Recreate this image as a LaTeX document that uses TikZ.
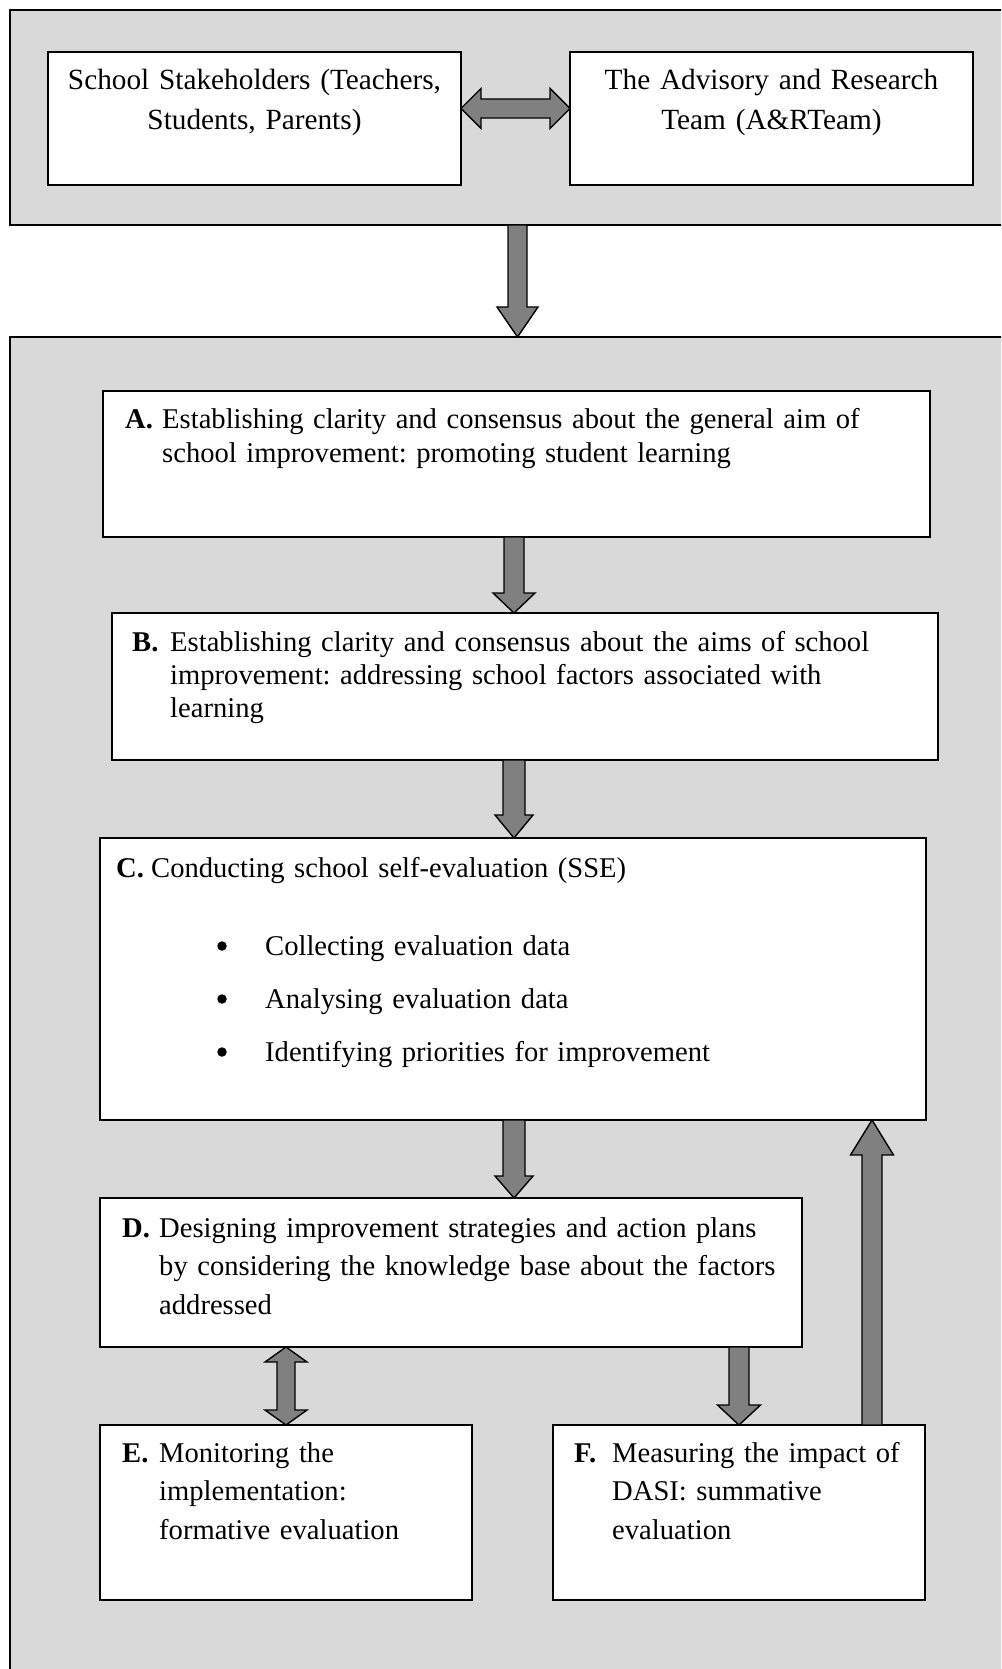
\documentclass[tikz,border=0pt]{standalone}
\usepackage{fontspec}
\setmainfont{Liberation Serif}
\usetikzlibrary{calc}
\definecolor{PanelGrey}{HTML}{D9D9D9}
\definecolor{ArrowGrey}{HTML}{808080}
\frenchspacing
\tikzset{
  panel/.style={draw=black,fill=PanelGrey,line width=1.8pt,inner sep=0pt,outer sep=0pt},
  stepbox/.style={draw=black,fill=white,line width=1.5pt,inner sep=0pt,outer sep=0pt},
  fatarrow/.style={draw=black,fill=ArrowGrey,line width=1.4pt,line join=miter},
  steplabel/.style={font=\fontsize{28.6}{34}\selectfont\bfseries,inner sep=0pt,anchor=base west},
  steptext/.style={font=\fontsize{28.6}{34}\selectfont,inner sep=0pt,anchor=base west,
    align=left,text width=760pt},
  widetext/.style={steptext,font=\fontsize{28.6}{38.5}\selectfont},
  partytext/.style={font=\fontsize{29.3}{40}\selectfont,inner sep=0pt,anchor=base,
    align=center,text width=400pt},
  bulletdot/.style={circle,fill=black,inner sep=0pt,minimum size=9.5pt},
}
% vertical block arrow: start, tip, half shaft, half head, head length
\newcommand{\blockarrow}[5]{%
  \draw[fatarrow] let \p1=(#1), \p2=(#2), \n1={sign(\y2-\y1)*#5} in
    ({\x1-#3pt},{\y1}) -- ({\x1-#3pt},{\y2-(\n1)*1pt}) -- ({\x1-#4pt},{\y2-(\n1)*1pt})
    -- ({\x1},{\y2}) -- ({\x1+#4pt},{\y2-(\n1)*1pt}) -- ({\x1+#3pt},{\y2-(\n1)*1pt})
    -- ({\x1+#3pt},{\y1}) -- cycle;}
% vertical block arrow with two heads
\newcommand{\blockdouble}[5]{%
  \draw[fatarrow] let \p1=(#1), \p2=(#2), \n1={sign(\y2-\y1)*#5} in
    ({\x1},{\y1}) -- ({\x1+#4pt},{\y1+(\n1)*1pt}) -- ({\x1+#3pt},{\y1+(\n1)*1pt})
    -- ({\x1+#3pt},{\y2-(\n1)*1pt}) -- ({\x1+#4pt},{\y2-(\n1)*1pt}) -- ({\x1},{\y2})
    -- ({\x1-#4pt},{\y2-(\n1)*1pt}) -- ({\x1-#3pt},{\y2-(\n1)*1pt})
    -- ({\x1-#3pt},{\y1+(\n1)*1pt}) -- ({\x1-#4pt},{\y1+(\n1)*1pt}) -- cycle;}

\begin{document}
\begin{tikzpicture}[x=1pt,y=-1pt]
  \useasboundingbox (0,0) rectangle (1001,1669);
  \clip (0,0) rectangle (1001,1669);

  % panels
  \node[panel,minimum width=1015pt,minimum height=215pt] (toppanel) at (517.5,117.5) {};
  \node[panel,minimum width=1015pt,minimum height=1363pt] (botpanel) at (517.5,1018.5) {};

  % partners
  \node[stepbox,minimum width=413pt,minimum height=133pt] (stake) at (254.5,118.5) {};
  \node[stepbox,minimum width=403pt,minimum height=133pt] (team) at (771.5,118.5) {};
  \node[partytext] (staketext) at (254.5,90) {School Stakeholders (Teachers,\\Students, Parents)};
  \node[partytext] (teamtext) at (771.5,90) {The Advisory and Research\\Team (A\&RTeam)};

  % steps
  \node[stepbox,minimum width=827pt,minimum height=146pt] (A) at (516.5,464) {};
  \node[stepbox,minimum width=826pt,minimum height=147pt] (B) at (525,686.5) {};
  \node[stepbox,minimum width=826pt,minimum height=282pt] (C) at (513,979) {};
  \node[stepbox,minimum width=702pt,minimum height=149pt] (D) at (451,1272.5) {};
  \node[stepbox,minimum width=372pt,minimum height=175pt] (E) at (286,1512.5) {};
  \node[stepbox,minimum width=372pt,minimum height=175pt] (F) at (739,1512.5) {};

  \node[steplabel] (alab) at (125,428) {A.};
  \node[steptext] (atext) at (162,428) {Establishing clarity and consensus about the general aim of\\school improvement: promoting student learning};
  \node[steplabel] (blab) at (132,651.5) {B.};
  \node[steptext,font=\fontsize{28.6}{33}\selectfont] (btext) at (170,651.5) {Establishing clarity and consensus about the aims of school\\improvement: addressing school factors associated with\\learning};
  \node[steplabel] (clab) at (116,877) {C.};
  \node[steptext] (ctext) at (151,877) {Conducting school self-evaluation (SSE)};
  \node[bulletdot] (cb1) at (222,946) {};
  \node[steptext] (ci1) at (265,955.5) {Collecting evaluation data};
  \node[bulletdot] (cb2) at (222,999) {};
  \node[steptext] (ci2) at (265,1008.5) {Analysing evaluation data};
  \node[bulletdot] (cb3) at (222,1052) {};
  \node[steptext] (ci3) at (265,1061.5) {Identifying priorities for improvement};
  \node[steplabel] (dlab) at (122,1237) {D.};
  \node[widetext] (dtext) at (159,1237) {Designing improvement strategies and action plans\\by considering the knowledge base about the factors\\addressed};
  \node[steplabel] (elab) at (122,1462) {E.};
  \node[widetext] (etext) at (159,1462) {Monitoring the\\implementation:\\formative evaluation};
  \node[steplabel] (flab) at (574,1462) {F.};
  \node[widetext] (ftext) at (612,1462) {Measuring the impact of\\DASI: summative\\evaluation};

  % arrows
  \coordinate (spine) at (514,0);
  \coordinate (riser) at (872,0);
  \draw[fatarrow] let \p1=([yshift=10pt]stake.east), \p2=([yshift=10pt]team.west) in
    (\x1,\y1) -- (\x1+20pt,\y1+20pt) -- (\x1+20pt,\y1+9.5pt) -- (\x2-20pt,\y1+9.5pt)
    -- (\x2-20pt,\y1+20pt) -- (\x2,\y1) -- (\x2-20pt,\y1-20pt) -- (\x2-20pt,\y1-9.5pt)
    -- (\x1+20pt,\y1-9.5pt) -- (\x1+20pt,\y1-20pt) -- cycle;
  \blockarrow{toppanel.south}{botpanel.north}{9.5}{20.5}{30}
  \blockarrow{A.south -| spine}{B.north -| spine}{10}{21}{20}
  \blockarrow{B.south -| spine}{C.north -| spine}{11}{19}{23}
  \blockarrow{C.south -| spine}{D.north -| spine}{11}{19}{22}
  \blockdouble{D.south -| E.north}{E.north}{9}{21}{15}
  \blockarrow{D.south -| F.north}{F.north}{10}{21.5}{20}
  \blockarrow{F.north -| riser}{C.south -| riser}{10}{21.5}{35}
\end{tikzpicture}
\end{document}
